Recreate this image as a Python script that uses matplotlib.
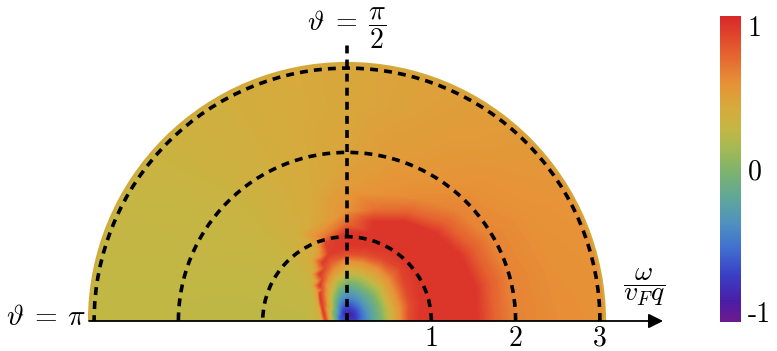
import numpy as np
import matplotlib
matplotlib.use("Agg")
import matplotlib.pyplot as plt
import matplotlib.tri as mtri
from matplotlib.colors import LinearSegmentedColormap, Normalize
from matplotlib.cm import ScalarMappable
from matplotlib.patches import Wedge, Arc

plt.rcParams["mathtext.fontset"] = "cm"

# ---------------- data ----------------
# field sampled along rays of constant angle (degrees); radius in units of omega/(v_F q)
ray_angles = [0, 15, 30, 45, 60, 75, 90, 105, 112.5, 120, 127.5, 135, 142.5, 150,
              157.5, 165, 172.5, 180]
ray_radii = [
    [0.1, 0.2, 0.3, 0.42, 0.53, 0.64, 0.74, 0.85, 1.2, 1.55, 1.75, 2.0, 2.5, 3.2],
    [0.1, 0.2, 0.3, 0.42, 0.54, 0.66, 0.77, 0.9, 1.25, 1.58, 1.75, 2.0, 2.5, 3.2],
    [0.1, 0.2, 0.3, 0.43, 0.55, 0.68, 0.8, 0.95, 1.25, 1.55, 1.72, 1.95, 2.5, 3.2],
    [0.1, 0.2, 0.3, 0.45, 0.6, 0.75, 0.9, 1.0, 1.25, 1.48, 1.65, 1.85, 2.2, 2.7, 3.2],
    [0.1, 0.2, 0.3, 0.45, 0.6, 0.72, 0.85, 1.0, 1.2, 1.36, 1.5, 1.68, 2.0, 2.6, 3.2],
    [0.1, 0.2, 0.3, 0.45, 0.6, 0.72, 0.82, 0.92, 1.08, 1.22, 1.36, 1.55, 2.0, 2.6, 3.2],
    [0.1, 0.2, 0.3, 0.37, 0.49, 0.6, 0.72, 0.8, 0.9, 1.05, 1.17, 1.3, 1.6, 2.0, 2.6, 3.2],
    [0.1, 0.2, 0.3, 0.4, 0.5, 0.6, 0.72, 0.82, 0.95, 1.03, 1.2, 1.6, 2.5, 3.2],
    [0.1, 0.2, 0.3, 0.4, 0.5, 0.6, 0.68, 0.75, 0.82, 0.95, 1.3, 2.2, 3.2],
    [0.1, 0.2, 0.3, 0.4, 0.5, 0.58, 0.64, 0.7, 0.85, 1.2, 2.0, 3.2],
    [0.1, 0.2, 0.3, 0.4, 0.47, 0.53, 0.59, 0.7, 1.2, 2.2, 3.2],
    [0.1, 0.2, 0.3, 0.38, 0.45, 0.5, 0.6, 0.8, 1.5, 3.2],
    [0.1, 0.18, 0.26, 0.33, 0.39, 0.44, 0.55, 1.0, 2.0, 3.2],
    [0.1, 0.2, 0.27, 0.34, 0.39, 0.45, 0.6, 1.0, 2.0, 3.2],
    [0.1, 0.18, 0.25, 0.305, 0.35, 0.45, 1.0, 2.0, 3.2],
    [0.1, 0.17, 0.23, 0.28, 0.33, 0.45, 1.0, 2.0, 3.2],
    [0.09, 0.16, 0.22, 0.265, 0.31, 0.45, 1.0, 2.0, 3.2],
    [0.08, 0.15, 0.21, 0.25, 0.3, 0.5, 1.0, 2.0, 3.2],
]
ray_values = [
    [-0.75, -0.5, -0.25, 0.0, 0.35, 0.6, 0.9, 1.0, 1.0, 1.0, 0.8, 0.66, 0.62, 0.6],
    [-0.82, -0.53, -0.26, 0.0, 0.36, 0.62, 0.9, 1.0, 1.0, 1.0, 0.82, 0.66, 0.61, 0.59],
    [-0.85, -0.55, -0.28, 0.0, 0.38, 0.65, 0.92, 1.0, 1.0, 1.0, 0.82, 0.66, 0.6, 0.57],
    [-0.9, -0.6, -0.3, 0.0, 0.4, 0.7, 0.95, 1.0, 1.0, 1.0, 0.8, 0.66, 0.6, 0.56, 0.54],
    [-0.9, -0.62, -0.35, 0.0, 0.38, 0.6, 0.92, 1.0, 1.0, 1.0, 0.78, 0.63, 0.57, 0.53, 0.51],
    [-0.9, -0.65, -0.38, -0.05, 0.35, 0.6, 0.9, 1.0, 1.0, 1.0, 0.75, 0.6, 0.53, 0.49, 0.48],
    [-0.85, -0.65, -0.4, -0.25, 0.05, 0.35, 0.6, 0.9, 1.0, 1.0, 0.75, 0.6, 0.53, 0.47, 0.45, 0.45],
    [-0.85, -0.6, -0.3, 0.0, 0.3, 0.55, 0.8, 0.97, 0.95, 0.7, 0.48, 0.43, 0.42, 0.42],
    [-0.85, -0.5, -0.15, 0.2, 0.45, 0.7, 0.9, 0.97, 0.6, 0.44, 0.4, 0.4, 0.4],
    [-0.8, -0.4, 0.0, 0.35, 0.6, 0.88, 0.97, 0.55, 0.4, 0.37, 0.37, 0.38],
    [-0.75, -0.25, 0.2, 0.55, 0.8, 0.97, 0.5, 0.36, 0.34, 0.35, 0.36],
    [-0.7, -0.1, 0.4, 0.72, 0.97, 0.5, 0.32, 0.31, 0.32, 0.34],
    [-0.68, -0.1, 0.4, 0.75, 0.96, 0.45, 0.3, 0.29, 0.3, 0.32],
    [-0.65, 0.0, 0.5, 0.95, 0.45, 0.3, 0.28, 0.28, 0.29, 0.3],
    [-0.6, 0.0, 0.55, 0.95, 0.4, 0.28, 0.27, 0.28, 0.29],
    [-0.55, 0.0, 0.5, 0.95, 0.4, 0.27, 0.26, 0.27, 0.28],
    [-0.58, 0.0, 0.5, 0.93, 0.38, 0.26, 0.25, 0.26, 0.27],
    [-0.6, 0.0, 0.5, 0.9, 0.35, 0.25, 0.25, 0.26, 0.27],
]
origin_value = -0.78

circle_radii = [1, 2, 3]
tick_values = [1, 2, 3]
tick_labels = ["1", "2", "3"]
cbar_ticks = [-1, 0, 1]
cbar_labels = ["-1", "0", "1"]
disk_radius = 3.06
vlim = 1.07

cmap_pos = [0.00, 0.07, 0.15, 0.24, 0.32, 0.40, 0.48, 0.56, 0.63, 0.70, 0.78, 0.88, 1.00]
cmap_col = ["#6c1a8c", "#4a1ea8", "#3a3ec4", "#416fd0", "#4f90bf", "#5ea69c", "#78b172",
            "#a0b955", "#c3b744", "#d6aa3c", "#e79237", "#e5602f", "#d9282a"]

# ---------------- figure ----------------
S = 84.3           # pixels per unit
CX, CY = 347, 321  # pixel position of origin
W, H = 777, 351

fig = plt.figure(figsize=(W / 100, H / 100), dpi=100)
ax = fig.add_axes([0, 0, 1, 1])
ax.set_xlim(-CX / S, (W - CX) / S)
ax.set_ylim(-(H - CY) / S, CY / S)
ax.axis("off")

cmap = LinearSegmentedColormap.from_list("rb", list(zip(cmap_pos, cmap_col)), N=512)
norm = Normalize(-vlim, vlim)

xs, ys, vs = [0.0], [0.0], [origin_value]
for a, rr, vv in zip(ray_angles, ray_radii, ray_values):
    t = np.deg2rad(a)
    rr = np.asarray(rr, float)
    xs.extend(rr * np.cos(t))
    ys.extend(rr * np.sin(t))
    vs.extend(vv)
xs = np.array(xs); ys = np.array(ys); vs = np.array(vs)
ys[np.abs(ys) < 1e-12] = 0.0

tri = mtri.Triangulation(xs, ys)
cs = ax.tricontourf(tri, vs, levels=np.linspace(-vlim, vlim, 215), cmap=cmap, norm=norm,
                    antialiased=False, zorder=1)
clip = Wedge((0, 0), disk_radius, 0, 180, transform=ax.transData)
cs.set_clip_path(clip)

# rim of the disk
ax.add_patch(Arc((0, 0), 2 * disk_radius, 2 * disk_radius, theta1=0, theta2=180,
                 color="#d4a93b", lw=1.6, zorder=2))

# dashed circles and vertical line
DASH = (0, (2.2, 1.7))
for r in circle_radii:
    ax.add_patch(Arc((0, 0), 2 * r, 2 * r, theta1=0, theta2=180, color="black",
                     lw=2.6, linestyle=DASH, zorder=3))
ax.plot([0, 0], [0, 3.33], color="black", lw=2.6, linestyle=DASH, zorder=3)

# horizontal axis with arrow
ax.annotate("", xy=(3.75, 0), xytext=(-disk_radius, 0),
            arrowprops=dict(arrowstyle="-|>", color="black", lw=1.3,
                            mutation_scale=22, shrinkA=0, shrinkB=0), zorder=4)

FS = 20
for tv, tl in zip(tick_values, tick_labels):
    ax.text(tv, -0.05, tl, ha="center", va="top", fontsize=FS, family="cmr10")

ax.text((86 - CX) / S, (CY - 325) / S, r"$\vartheta\:=\:\pi$", ha="right", va="baseline",
        fontsize=FS + 1)
ax.text(0, (CY - 31) / S, r"$\vartheta\;=\;\dfrac{\pi}{2}$", ha="center", va="baseline",
        fontsize=FS)
ax.text((644 - CX) / S, (CY - 287) / S, r"$\dfrac{\omega}{v_F q}$", ha="center", va="center",
        fontsize=FS)

# colorbar
cax = fig.add_axes([720 / W, (H - 322) / H, 21 / W, 306 / H])
cb = fig.colorbar(ScalarMappable(norm=norm, cmap=cmap), cax=cax)
cb.outline.set_visible(False)
cb.set_ticks(cbar_ticks)
cb.set_ticklabels(cbar_labels)
cax.tick_params(length=0, pad=5)
for lab in cax.get_yticklabels():
    lab.set_fontsize(FS)
    lab.set_family("cmr10")

fig.savefig("out.png", dpi=100)
